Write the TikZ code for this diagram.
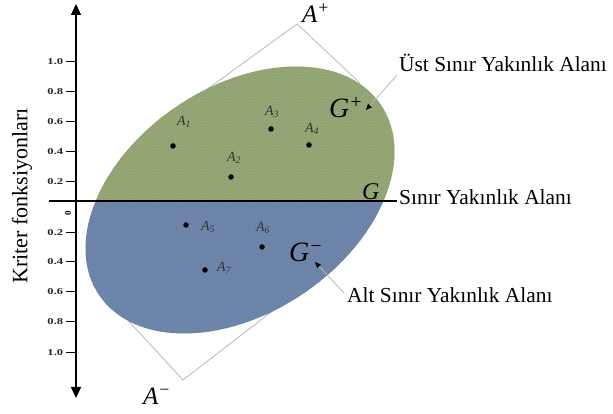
\documentclass[tikz,border=0pt]{standalone}
\usepackage{fontspec}
\setmainfont{Liberation Serif}
\usetikzlibrary{arrows.meta,patterns}
\definecolor{greenfill}{RGB}{154,173,122}
\definecolor{bluefill}{RGB}{113,138,176}
\definecolor{frame}{RGB}{185,185,185}
\tikzset{
  axisline/.style={line width=1.4pt,black},
  frameline/.style={frame,line width=0.8pt},
  leader/.style={frame,line width=0.8pt,-{Triangle[width=5pt,length=6pt,black]}},
  tick/.style={line width=1pt,black},
  ticklabel/.style={font=\fontsize{9}{10}\selectfont\bfseries,text=black!85,anchor=east,inner sep=0pt,xscale=1.4},
  ptdot/.style={circle,fill=black,inner sep=0pt,minimum size=5.5pt},
  ptlabel/.style={font=\fontsize{14}{16}\selectfont\itshape,text=black!80,inner sep=0pt},
  biglabel/.style={font=\fontsize{21.4}{24}\selectfont,anchor=west,inner sep=0pt},
  gname/.style={font=\fontsize{28}{30}\selectfont\itshape,anchor=base west,inner sep=0pt},
}
\begin{document}
\begin{tikzpicture}[x=1pt,y=1pt]
\useasboundingbox (0,0) rectangle (613,414);
% frame (parallelogram) lines behind ellipse
\coordinate (Aplus) at (297,390);
\coordinate (Aminus) at (183,34);
\coordinate (f1) at (188,311);
\coordinate (f2) at (360,331);
\coordinate (f3) at (124,98);
\coordinate (f4) at (279,108);
\draw[frameline] (f1) -- (Aplus) -- (f2);
\draw[frameline] (f3) -- (Aminus) -- (f4);
% ellipse halves
\begin{scope}
  \clip (0,213) rectangle (613,414);
  \fill[greenfill,rotate around={34:(240,214)}] (240,214) ellipse [x radius=170, y radius=113];
  \fill[pattern=crosshatch,pattern color=greenfill!92!black,rotate around={34:(240,214)}] (240,214) ellipse [x radius=170, y radius=113];
\end{scope}
\begin{scope}
  \clip (0,0) rectangle (613,213);
  \fill[bluefill,rotate around={34:(240,214)}] (240,214) ellipse [x radius=170, y radius=113];
  \fill[pattern=north west lines,pattern color=bluefill!90!black,rotate around={34:(240,214)}] (240,214) ellipse [x radius=170, y radius=113];
\end{scope}
% axis
\draw[axisline,{Triangle[width=10pt,length=11pt]}-{Triangle[width=10pt,length=11pt]}] (76,16) -- (76,410);
% boundary line
\coordinate (gl) at (49,213);
\coordinate (gr) at (397,213);
\draw[line width=1.4pt] (gl) -- (gr);
% ticks
\foreach \yy/\lab in {352/1.0,322/0.8,292/0.6,262/0.4,232/0.2,181/0.2,152/0.4,122/0.6,92/0.8,61/1.0}{
  \draw[tick] (66,\yy) -- (76,\yy);
  \node[ticklabel] at (63.5,\yy) {\lab};
}
\node[font=\fontsize{9}{10}\selectfont\bfseries,rotate=90,inner sep=0pt] (zero) at (68,201) {0};
% axis title
\node[font=\fontsize{22}{24}\selectfont,rotate=90,inner sep=0pt] (ytitle) at (22,218) {Kriter fonksiyonları};
% points
\node[ptdot] (p1) at (173,268) {};
\node[ptdot] (p2) at (231,237) {};
\node[ptdot] (p3) at (271,285) {};
\node[ptdot] (p4) at (309,269) {};
\node[ptdot] (p5) at (186,189) {};
\node[ptdot] (p6) at (262,167) {};
\node[ptdot] (p7) at (205,144) {};
\node[ptlabel] (l1) at (184,292) {A\textsubscript{1}};
\node[ptlabel] (l2) at (234,256) {A\textsubscript{2}};
\node[ptlabel] (l3) at (272,302) {A\textsubscript{3}};
\node[ptlabel] (l4) at (312,285) {A\textsubscript{4}};
\node[ptlabel] (l5) at (208,187) {A\textsubscript{5}};
\node[ptlabel] (l6) at (263,186) {A\textsubscript{6}};
\node[ptlabel] (l7) at (224,146) {A\textsubscript{7}};
% G labels
\node[gname] (gplus) at (329,296) {G\textsuperscript{+}};
\node[gname] (gminus) at (289,152) {G\textsuperscript{−}};
\node[gname,font=\fontsize{24}{26}\selectfont\itshape] (g) at (362,214) {G};
% A+ / A-
\node[gname,font=\fontsize{25}{27}\selectfont\itshape] (aplus) at (302,391) {A\textsuperscript{+}};
\node[gname,font=\fontsize{25}{27}\selectfont\itshape] (aminus) at (143,9) {A\textsuperscript{−}};
% right labels
\node[biglabel] (ust) at (399,351) {Üst Sınır Yakınlık Alanı};
\node[biglabel] (sinir) at (399,217) {Sınır Yakınlık Alanı};
\node[biglabel] (alt) at (347,119) {Alt Sınır Yakınlık Alanı};
% leaders
\coordinate (us) at (397,339);
\coordinate (ut) at (366,304);
\coordinate (as) at (344,121);
\coordinate (at) at (315,152);
\draw[leader] (us) -- (ut);
\draw[leader] (as) -- (at);
\end{tikzpicture}
\end{document}
